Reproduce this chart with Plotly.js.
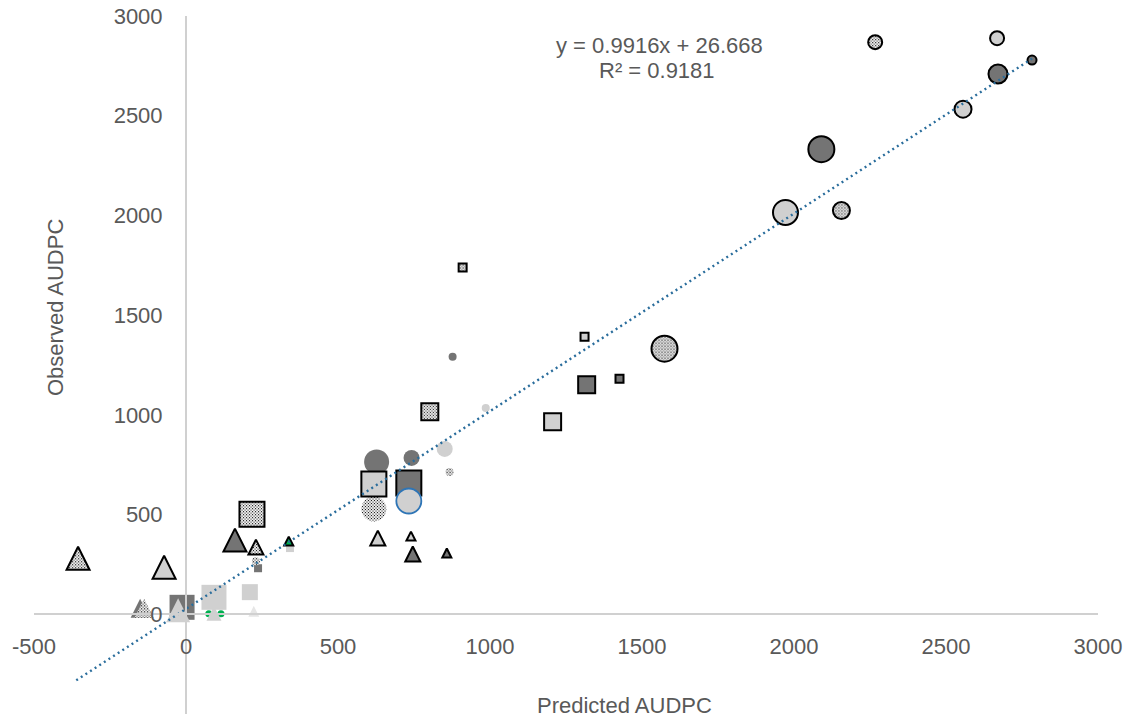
<!DOCTYPE html>
<html>
<head>
<meta charset="utf-8">
<script src="https://cdn.plot.ly/plotly-3.0.1.min.js"></script>
<style>html,body{margin:0;padding:0;background:#fff;}#chart{width:1130px;height:726px;}</style>
</head>
<body>
<div id="chart"></div>
<script>
// ---- data (Predicted AUDPC = x, Observed AUDPC = y) ----
const tickVals = [-500, 0, 500, 1000, 1500, 2000, 2500, 3000];
const tickText = ['-500', '0', '500', '1000', '1500', '2000', '2500', '3000'];

// circles with black outline
const circDotX = [2267, 2156, 1574], circDotY = [2869, 2025, 1332];
const circLightX = [2668, 2556, 1972], circLightY = [2889, 2533, 2015];
const circDarkX = [2783, 2671, 2090], circDarkY = [2779, 2709, 2332];
// circles without outline
const circDotNoX = [230, 867, 618], circDotNoY = [266, 714, 528];
const circDarkNoX = [877, 742, 627], circDarkNoY = [1291, 784, 764];
const circLightNoX = [986, 851], circLightNoY = [1035, 829];
const circBlueEdgeX = [733], circBlueEdgeY = [568];
// squares with black outline
const sqDotX = [910, 802, 217], sqDotY = [1739, 1015, 502];
const sqLightX = [1311, 1206, 618], sqLightY = [1392, 965, 653];
const sqDarkX = [1426, 1318, 733], sqDarkY = [1181, 1151, 658];
// squares without outline
const sqLightNoX = [342, 210, 92], sqLightNoY = [332, 111, 85];
const sqDarkNoX = [237, -13], sqDarkNoY = [231, 35];
// triangles with black outline
const triLightX = [740, 631, -72], triLightY = [392, 382, 236];
const triDarkX = [858, 746, 161], triDarkY = [307, 302, 372];
const triDotX = [230, -355], triDotY = [337, 281];
const triGreenX = [338], triGreenY = [367];
// triangles without outline
const triLightNoX = [-26, 92], triLightNoY = [20, 5];
const triPaleNoX = [223], triPaleNoY = [15];
const triDotNoX = [-138], triDotNoY = [30];
const triDarkNoX = [-151], triDarkNoY = [30];
const greenNoX = [75, 115], greenNoY = [3, 3];
// linear trendline y = 0.9916x + 26.668
const trendX = [-361, 2783], trendY = [-331, 2786];

// ---- styles ----
const DARK = '#747474', LIGHT = '#d0d0d0', DOT = '#9a9a9a', PALE = '#e6e6e6', GREEN = '#00b050';
const EDGE = '#000000';

function mk(x, y, symbol, color, size, edge, ew, dotted) {
  const marker = { symbol: symbol, color: color, size: size, opacity: 1,
    line: { color: edge || 'rgba(0,0,0,0)', width: edge ? (ew || 2) : 0 } };
  if (symbol === 'arrow-down') {
    // equilateral-looking triangle: arrow symbol turned upright and centred on its point
    marker.angle = 180;
    marker.standoff = Array.isArray(size) ? size.map(function (s) { return s / 2; }) : size / 2;
  }
  return {
    x: x, y: y, type: 'scatter', mode: 'markers', cliponaxis: false, hoverinfo: 'skip',
    meta: dotted ? 'dotted' : '', marker: marker
  };
}
const TRI = 'arrow-down';

const traces = [
  mk(greenNoX, greenNoY, 'circle', GREEN, 7),
  mk(triPaleNoX, triPaleNoY, TRI, PALE, 11),
  mk(sqDarkNoX, sqDarkNoY, 'square', DARK, [8, 25]),
  mk(triDarkNoX, triDarkNoY, TRI, DARK, 19),
  mk(triDotNoX, triDotNoY, TRI, DOT, 19, null, 0, true),
  mk(triLightNoX, triLightNoY, TRI, LIGHT, [24, 15]),
  mk(sqLightNoX, sqLightNoY, 'square', LIGHT, [8, 16, 25]),
  mk(circDotNoX, circDotNoY, 'circle', DOT, [8, 8, 25], null, 0, true),
  mk(circDarkNoX, circDarkNoY, 'circle', DARK, [8, 16, 25]),
  mk(circLightNoX, circLightNoY, 'circle', LIGHT, [8, 16]),
  mk(sqDotX, sqDotY, 'square', DOT, [8, 17, 25], EDGE, 2, true),
  mk(sqLightX, sqLightY, 'square', LIGHT, [8, 17, 25], EDGE),
  mk(sqDarkX, sqDarkY, 'square', DARK, [8, 17, 25], EDGE),
  mk(circBlueEdgeX, circBlueEdgeY, 'circle', LIGHT, 25, '#2e75b6', 1.8),
  mk(triDotX, triDotY, TRI, DOT, [15, 23], EDGE, 2, true),
  mk(triLightX, triLightY, TRI, LIGHT, [9, 15, 23], EDGE),
  mk(triDarkX, triDarkY, TRI, DARK, [9, 15, 23], EDGE),
  mk(triGreenX, triGreenY, TRI, GREEN, 9, EDGE),
  mk(circDotX, circDotY, 'circle', DOT, [14, 17, 26], EDGE, 2, true),
  mk(circLightX, circLightY, 'circle', LIGHT, [14, 17, 25], EDGE),
  mk(circDarkX, circDarkY, 'circle', DARK, [9, 19, 26], EDGE),
  { x: trendX, y: trendY, type: 'scatter', mode: 'lines', hoverinfo: 'skip', cliponaxis: false,
    line: { color: '#2a6d9c', width: 2.4, dash: '2px,3.5px' } }
];

const FONT = 'Liberation Sans, Arial, sans-serif';
const GREY = '#595959';
const axisCommon = {
  range: [-500, 3000], tickvals: tickVals, ticktext: tickText,
  showgrid: false, zeroline: false, showline: true, linecolor: '#d0d0d0', linewidth: 2,
  ticks: '', anchor: 'free', position: 500 / 3500,
  tickfont: { family: FONT, size: 22, color: GREY }, automargin: false, fixedrange: true
};

const layout = {
  width: 1130, height: 726,
  margin: { l: 34, r: 32, t: 16, b: 12 },
  paper_bgcolor: '#ffffff', plot_bgcolor: '#ffffff',
  showlegend: false,
  font: { family: FONT, color: GREY },
  xaxis: Object.assign({}, axisCommon, { ticklabelstandoff: 12 }),
  yaxis: Object.assign({}, axisCommon, { ticklabelstandoff: 18 }),
  annotations: [
    { text: 'Predicted AUDPC', xref: 'paper', yref: 'paper', x: (624 - 34) / 1064, y: (714 - 705) / 698,
      xanchor: 'center', yanchor: 'middle', showarrow: false, font: { family: FONT, size: 22, color: GREY } },
    { text: 'Observed AUDPC', xref: 'paper', yref: 'paper', x: (55 - 34) / 1064, y: (714 - 308) / 698,
      textangle: -90, xanchor: 'center', yanchor: 'middle', showarrow: false, font: { family: FONT, size: 22, color: GREY } },
    { text: 'y = 0.9916x + 26.668', xref: 'paper', yref: 'paper', x: (659 - 34) / 1064, y: (714 - 45) / 698,
      xanchor: 'center', yanchor: 'middle', showarrow: false, font: { family: FONT, size: 22, color: GREY } },
    { text: 'R² = 0.9181', xref: 'paper', yref: 'paper', x: (657 - 34) / 1064, y: (714 - 71) / 698,
      xanchor: 'center', yanchor: 'middle', showarrow: false, font: { family: FONT, size: 22, color: GREY } }
  ]
};

Plotly.newPlot('chart', traces, layout, { displayModeBar: false, staticPlot: true }).then(function (gd) {
  // stippled (dotted) fill for the pattern-filled series
  try {
    const ns = 'http://www.w3.org/2000/svg';
    const svg = gd.querySelector('svg.main-svg');
    let defs = svg.querySelector('defs');
    if (!defs) { defs = document.createElementNS(ns, 'defs'); svg.insertBefore(defs, svg.firstChild); }
    const pat = document.createElementNS(ns, 'pattern');
    pat.setAttribute('id', 'stipple');
    pat.setAttribute('patternUnits', 'userSpaceOnUse');
    pat.setAttribute('width', '3');
    pat.setAttribute('height', '3');
    const bg = document.createElementNS(ns, 'rect');
    bg.setAttribute('width', '3'); bg.setAttribute('height', '3'); bg.setAttribute('fill', '#ffffff');
    pat.appendChild(bg);
    [[0, 0], [1.5, 1.5]].forEach(function (p) {
      const d = document.createElementNS(ns, 'rect');
      d.setAttribute('x', p[0]); d.setAttribute('y', p[1]);
      d.setAttribute('width', '1.1'); d.setAttribute('height', '1.1'); d.setAttribute('fill', '#000000');
      pat.appendChild(d);
    });
    defs.appendChild(pat);
    const traceEls = gd.querySelectorAll('.scatterlayer .trace');
    traces.forEach(function (t, i) {
      if (t.meta === 'dotted' && traceEls[i]) {
        traceEls[i].querySelectorAll('path.point').forEach(function (p) { p.style.fill = 'url(#stipple)'; });
      }
    });
  } catch (e) { }
});
</script>
</body>
</html>
